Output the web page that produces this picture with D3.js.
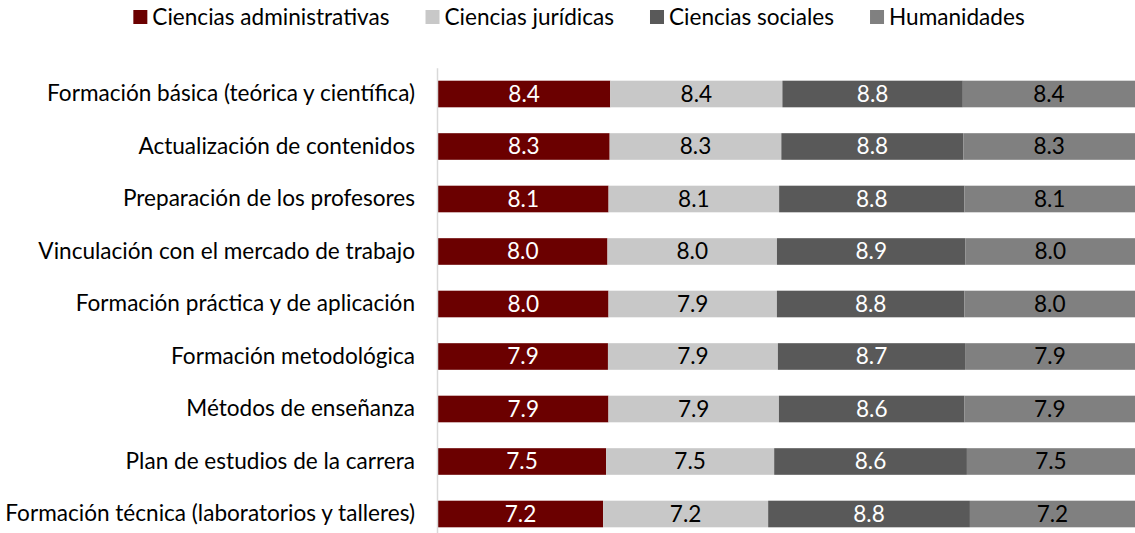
<!DOCTYPE html>
<html>
<head>
<meta charset="utf-8">
<script src="https://cdn.jsdelivr.net/npm/d3@7"></script>
<style>
  html, body { margin: 0; padding: 0; background: #fff; }
  svg { display: block; font-family: Lato, "Noto Sans", sans-serif; }
</style>
</head>
<body>
<svg id="chart"></svg>
<script>
const categories = [
  'Formación básica (teórica y científica)',
  'Actualización de contenidos',
  'Preparación de los profesores',
  'Vinculación con el mercado de trabajo',
  'Formación práctica y de aplicación',
  'Formación metodológica',
  'Métodos de enseñanza',
  'Plan de estudios de la carrera',
  'Formación técnica (laboratorios y talleres)'
]
const seriesNames = ['Ciencias administrativas', 'Ciencias jurídicas', 'Ciencias sociales', 'Humanidades']
const administrativas = [8.4, 8.3, 8.1, 8.0, 8.0, 7.9, 7.9, 7.5, 7.2]
const juridicas = [8.4, 8.3, 8.1, 8.0, 7.9, 7.9, 7.9, 7.5, 7.2]
const sociales = [8.8, 8.8, 8.8, 8.9, 8.8, 8.7, 8.6, 8.6, 8.8]
const humanidades = [8.4, 8.3, 8.1, 8.0, 8.0, 7.9, 7.9, 7.5, 7.2]

const colors = ['#6b0000', '#c8c8c8', '#595959', '#808080']
const textColors = ['#fff', '#000', '#fff', '#000']

const width = 1135
const height = 533

const svg = d3.select('#chart').attr('width', width).attr('height', height)

// fit the font to the longest label width seen in the picture (~410px)
const probe = svg.append('text').attr('font-size', 20).text(categories[8])
const fontSize = 20 * 410 / probe.node().getComputedTextLength()
probe.remove()

const rows = categories.map((c, i) => ({
  name: c,
  [seriesNames[0]]: administrativas[i],
  [seriesNames[1]]: juridicas[i],
  [seriesNames[2]]: sociales[i],
  [seriesNames[3]]: humanidades[i]
}))

const stacked = d3.stack().keys(seriesNames).offset(d3.stackOffsetExpand)(rows)

const x = d3.scaleLinear().domain([0, 1]).range([438, 1135])
const y = d3.scaleBand()
  .domain(categories)
  .range([67.75, 67.75 + 9 * 52.5])
  .paddingInner(0.493)
  .paddingOuter(0.2465)

// bars
const layer = svg.append('g')
  .selectAll('g')
  .data(stacked)
  .join('g')
  .attr('fill', (d, i) => colors[i])

layer.selectAll('rect')
  .data(d => d)
  .join('rect')
  .attr('x', d => x(d[0]))
  .attr('y', d => y(d.data.name))
  .attr('width', d => x(d[1]) - x(d[0]))
  .attr('height', y.bandwidth())

// value labels
svg.append('g')
  .selectAll('g')
  .data(stacked)
  .join('g')
  .attr('fill', (d, i) => textColors[i])
  .selectAll('text')
  .data(d => d.map(p => ({ p, key: d.key })))
  .join('text')
  .attr('x', d => (x(d.p[0]) + x(d.p[1])) / 2)
  .attr('y', d => y(d.p.data.name) + y.bandwidth() / 2)
  .attr('dy', '0.35em')
  .attr('text-anchor', 'middle')
  .attr('font-size', fontSize)
  .text(d => d3.format('.1f')(d.p.data[d.key]))

// y axis
const yAxis = svg.append('g')
  .attr('transform', 'translate(437,0)')
  .call(d3.axisLeft(y).tickSize(0).tickSizeOuter(0).tickPadding(22))

yAxis.select('.domain').attr('stroke', '#d9d9d9').attr('stroke-width', 1.5)
yAxis.selectAll('text')
  .attr('font-size', fontSize)
  .attr('font-family', 'Lato, "Noto Sans", sans-serif')
  .attr('fill', '#000')

// legend
const legend = svg.append('g')
const items = legend.selectAll('g')
  .data(seriesNames)
  .join('g')

items.append('rect')
  .attr('width', 14)
  .attr('height', 14)
  .attr('y', 10)
  .attr('fill', (d, i) => colors[i])

items.append('text')
  .attr('x', 19)
  .attr('y', 17)
  .attr('dy', '0.35em')
  .attr('font-size', fontSize)
  .attr('fill', '#000')
  .text(d => d)

let offset = 0
const gap = 36
items.each(function () {
  const w = this.getBBox().width
  d3.select(this).attr('transform', `translate(${offset},0)`)
  offset += w + gap
})
const total = offset - gap
legend.attr('transform', `translate(${579 - total / 2},0)`)
</script>
</body>
</html>
